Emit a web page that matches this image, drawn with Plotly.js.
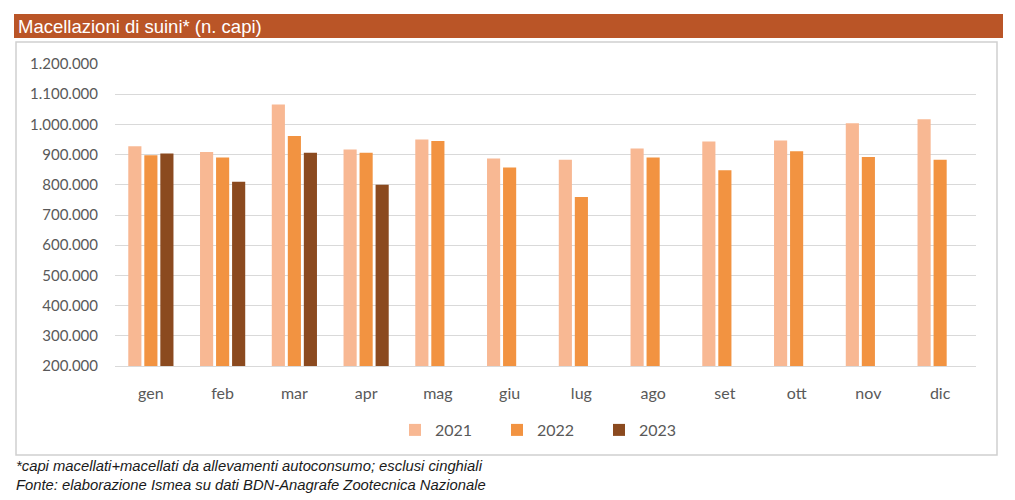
<!DOCTYPE html>
<html>
<head>
<meta charset="utf-8">
<script src="https://cdn.plot.ly/plotly-3.0.1.min.js"></script>
<style>html,body{margin:0;padding:0;background:#fff;}#chart{width:1015px;height:500px;}</style>
</head>
<body>
<div id="chart"></div>
<script>
const months = ["gen","feb","mar","apr","mag","giu","lug","ago","set","ott","nov","dic"];
const y2021 = [928000, 909000, 1066000, 917000, 950000, 887000, 883000, 920000, 943000, 947000, 1004000, 1017000];
const y2022 = [898000, 890000, 962000, 906000, 945000, 857000, 760000, 890000, 848000, 911000, 892000, 883000];
const y2023 = [904000, 810000, 906000, 800000, null, null, null, null, null, null, null, null];
const seriesNames = ["2021","2022","2023"];
const yTicks = [200000,300000,400000,500000,600000,700000,800000,900000,1000000,1100000,1200000];
const titleText = "Macellazioni di suini* (n. capi)";
const note1 = "*capi macellati+macellati da allevamenti autoconsumo; esclusi cinghiali";
const note2 = "Fonte: elaborazione Ismea su dati BDN-Anagrafe Zootecnica Nazionale";

const W = 1015, H = 500, L = 115, R = 39, T = 64, B = 134;
const pw = W - L - R, ph = H - T - B;
const px = x => (x - L) / pw;
const py = y => (H - B - y) / ph;

const colors = ["#F8B893", "#F29341", "#8B4A1F"];
const data = [y2021, y2022, y2023].map((v, i) => ({
  type: "bar", x: months, y: v, name: seriesNames[i],
  marker: {color: colors[i]}, hoverinfo: "x+y"
}));

const tickFont = {family: "Lato, 'Open Sans', sans-serif", size: 15, color: "#595959"};
const layout = {
  width: W, height: H,
  margin: {l: L, r: R, t: T, b: B},
  paper_bgcolor: "#fff", plot_bgcolor: "#fff",
  separators: ",.",
  barmode: "group", bargap: 0.33, bargroupgap: 0.18,
  showlegend: true,
  legend: {orientation: "h", x: px(548), xanchor: "center", y: py(430), yanchor: "middle",
    font: {family: "Lato, 'Open Sans', sans-serif", size: 16, color: "#595959"},
    entrywidth: 57, entrywidthmode: "pixels", itemwidth: 30},
  xaxis: {type: "category", showgrid: false, showline: true, linecolor: "#D9D9D9", linewidth: 1,
    tickfont: {family: "Lato, 'Open Sans', sans-serif", size: 16, color: "#595959"}, ticks: "", ticklabelstandoff: 13},
  yaxis: {range: [200000, 1200000], tickvals: yTicks, tickformat: ",d", showgrid: true,
    gridcolor: "#D9D9D9", gridwidth: 1, zeroline: false, showline: false, tickfont: tickFont,
    ticks: "", ticklabelstandoff: 16},
  shapes: [
    {type: "rect", xref: "paper", yref: "paper", x0: px(14), x1: px(1003), y0: py(14), y1: py(38),
      fillcolor: "#BA5527", line: {width: 0}, layer: "below"},
    {type: "rect", xref: "paper", yref: "paper", x0: px(16), x1: px(997), y0: py(42), y1: py(455),
      fillcolor: "rgba(0,0,0,0)", line: {color: "#D0D0D0", width: 1.5}, layer: "below"}
  ],
  annotations: [
    {xref: "paper", yref: "paper", x: px(16), y: py(26), xanchor: "left", yanchor: "middle",
      text: titleText, showarrow: false,
      font: {family: "'Liberation Sans', Arial, sans-serif", size: 18.5, color: "#ffffff"}},
    {xref: "paper", yref: "paper", x: px(14), y: py(466), xanchor: "left", yanchor: "middle",
      text: "<i>" + note1 + "</i>", showarrow: false,
      font: {family: "'Liberation Sans Narrow', 'Liberation Sans', sans-serif", size: 14.8, color: "#1a1a1a"}},
    {xref: "paper", yref: "paper", x: px(14), y: py(485), xanchor: "left", yanchor: "middle",
      text: "<i>" + note2 + "</i>", showarrow: false,
      font: {family: "'Liberation Sans Narrow', 'Liberation Sans', sans-serif", size: 14.8, color: "#1a1a1a"}}
  ]
};
Plotly.newPlot("chart", data, layout, {displayModeBar: false, staticPlot: true});
</script>
</body>
</html>
